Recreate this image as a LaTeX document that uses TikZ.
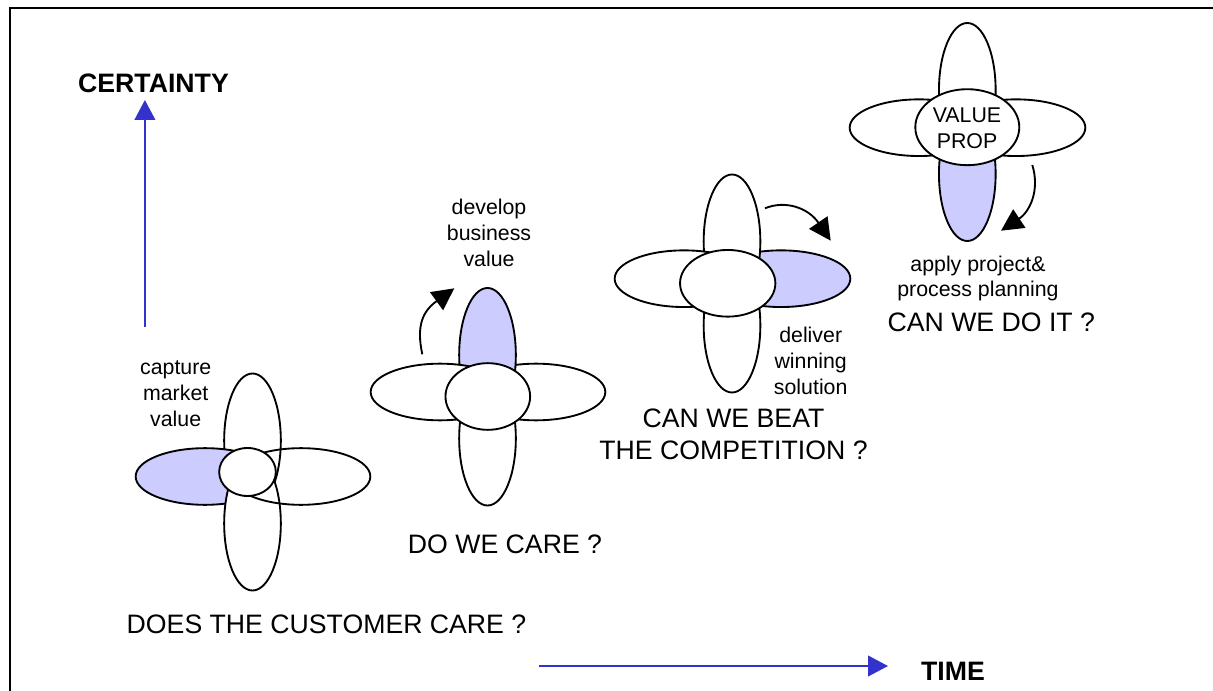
\documentclass[tikz,border=0pt]{standalone}
\usepackage{fontspec}
\setmainfont{Liberation Sans}
\usetikzlibrary{shapes.geometric,arrows.meta}
\definecolor{petalblue}{HTML}{CCCCFF}
\definecolor{axisblue}{HTML}{3333CC}
\tikzset{
  x=0.75pt,y=-0.75pt,
  petal/.style={ellipse,draw=black,line width=1.4pt,fill=white,inner sep=0pt,outer sep=0pt},
  hpetal/.style={petal,minimum width=104pt,minimum height=42.5pt},
  vpetal/.style={petal,minimum width=42.5pt,minimum height=100.5pt},
  picked/.style={fill=petalblue},
  hollow/.style={fill=none},
  big/.style={font=\fontsize{20pt}{24.4pt}\selectfont,align=center,inner sep=0pt,text=black},
  small/.style={font=\fontsize{16pt}{19.3pt}\selectfont,align=center,inner sep=0pt,text=black},
  head/.style={font=\fontsize{20pt}{24pt}\selectfont\bfseries,inner sep=0pt,text=black},
  curl/.style={draw=black,line width=1.4pt,-{Triangle[length=16.5pt,width=16.5pt]}},
  axis/.style={draw=axisblue,line width=1.5pt,-{Triangle[length=15pt,width=15.5pt]}},
}
\begin{document}
\begin{tikzpicture}
\useasboundingbox (0,0) rectangle (1213,691);
\fill[white] (0,0) rectangle (1213,691);
\draw[line width=1.6pt] (9.7,691) -- (9.7,8) -- (1213,8);

% flower 1
\node[vpetal] (a1) at (252.5,440.5) {};
\node[hpetal,picked] (a2) at (205,476.5) {};
\node[vpetal] (a3) at (252.5,523.5) {};
\node[hpetal,hollow] (a4) at (301,476.5) {};
\node[petal,minimum width=42.5pt,minimum height=36pt] (a5) at (247.5,472) {};

% flower 2
\node[vpetal] (b3) at (487.5,438.5) {};
\node[hpetal] (b4) at (536,392) {};
\node[vpetal,picked] (b1) at (487.5,355) {};
\node[hpetal] (b2) at (440,392) {};
\node[petal,minimum width=63.5pt,minimum height=50pt] (b5) at (487.8,396.5) {};

% flower 3
\node[vpetal] (c3) at (732,325.5) {};
\node[hpetal,picked] (c4) at (781,278.7) {};
\node[vpetal] (c1) at (732,241.5) {};
\node[hpetal] (c2) at (684,278.7) {};
\node[petal,minimum width=71.5pt,minimum height=50pt] (c5) at (727.7,283.3) {};

% flower 4
\node[vpetal] (d1) at (967.3,90) {};
\node[vpetal,picked] (d3) at (967.3,174) {};
\node[hpetal] (d4) at (1016,127.7) {};
\node[hpetal] (d2) at (919,127.7) {};
\node[petal,minimum width=78pt,minimum height=57pt] (d5) at (967.3,127.2) {};

% curved arrows
\coordinate (s1) at (422.3,354.3);
\coordinate (t1) at (454.3,288.3);
\coordinate (s2) at (765,208.3);
\coordinate (t2) at (830.7,240.7);
\coordinate (s3) at (1032.3,165);
\coordinate (t3) at (1001,230.7);
\draw[curl] (s1) .. controls (416,325) and (423,311) .. (t1);
\draw[curl] (s2) .. controls (785,200) and (808,207.5) .. (t2);
\draw[curl] (s3) .. controls (1040,190) and (1030,211.5) .. (t3);

% axes
\coordinate (u0) at (144.9,327);
\coordinate (u1) at (144.9,100);
\coordinate (v0) at (539,666);
\coordinate (v1) at (888,666);
\draw[axis] (u0) -- (u1);
\draw[axis] (v0) -- (v1);

% texts
\node[head] (certainty) at (153.5,83) {CERTAINTY};
\node[head] (time) at (953,671.5) {TIME};
\node[small] (capture) at (175.7,393.5) {capture\\market\\value};
\node[small] (develop) at (489,233) {develop\\business\\value};
\node[small] (deliver) at (810.7,361) {deliver\\winning\\solution};
\node[small] (apply) at (978,278.5) {apply project\&\\process planning};
\node[small] (valueprop) at (967,128.5) {VALUE\\PROP};
\node[big] (q1) at (326.5,624) {DOES THE CUSTOMER CARE ?};
\node[big] (q2) at (505,544) {DO WE CARE ?};
\node[big] (q3) at (733.5,434.5) {CAN WE BEAT\\THE COMPETITION ?};
\node[big] (q4) at (991.3,322) {CAN WE DO IT ?};
\end{tikzpicture}
\end{document}
